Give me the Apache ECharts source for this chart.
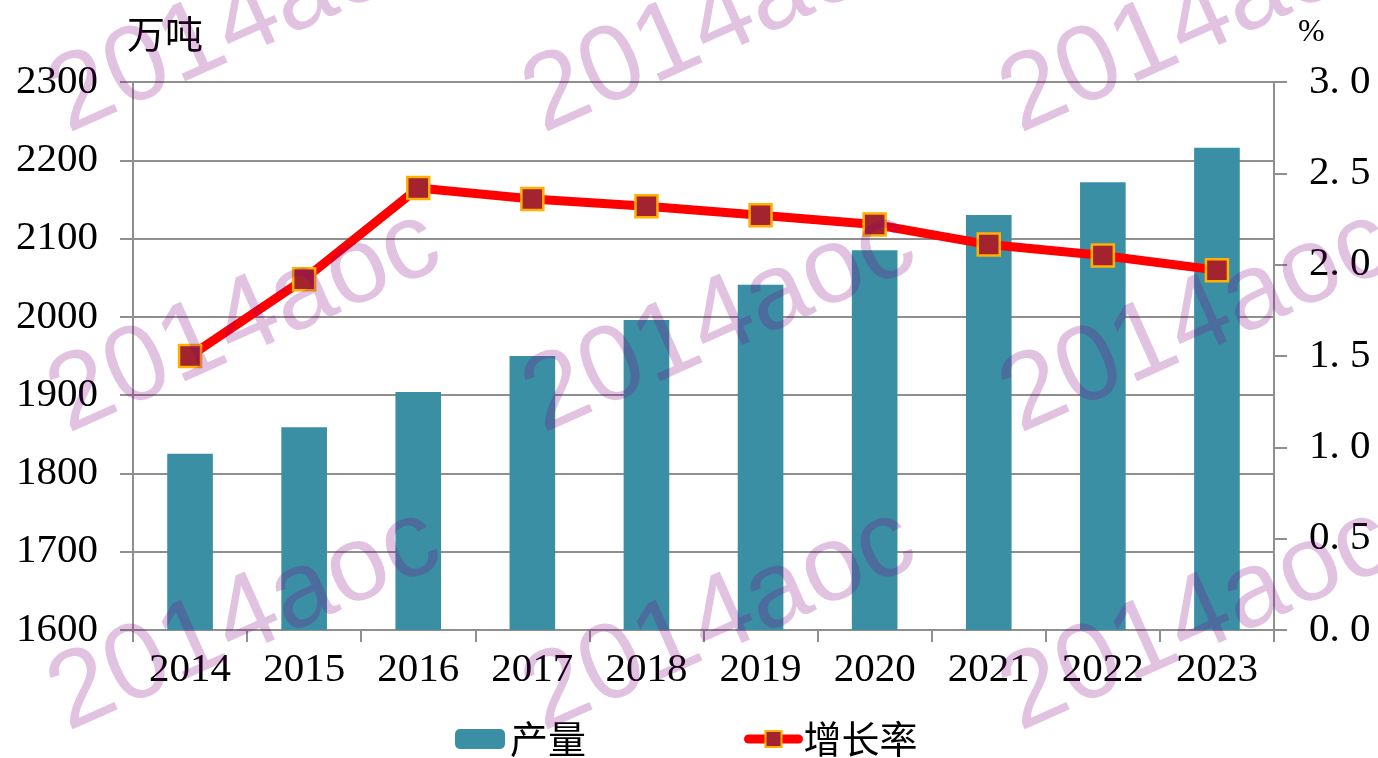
<!DOCTYPE html>
<html>
<head>
<meta charset="utf-8">
<script src="https://cdn.jsdelivr.net/npm/echarts@6/dist/echarts.min.js"></script>
<style>
  html, body { margin: 0; padding: 0; background: #fff; }
  #chart { width: 1378px; height: 758px; }
</style>
</head>
<body>
<div id="chart"></div>
<script>
// 数据
var years = ['2014', '2015', '2016', '2017', '2018', '2019', '2020', '2021', '2022', '2023'];
var output = [1825, 1859, 1904, 1950, 1996, 2041, 2085, 2130, 2172, 2216];   // 产量 万吨
var growth = [1.50, 1.92, 2.42, 2.36, 2.32, 2.27, 2.22, 2.11, 2.05, 1.97];   // 增长率 %
var leftTicks = { min: 1600, max: 2300, step: 100 };
var rightTicks = { min: 0, max: 3, step: 0.5 };
var markText = '2014aoc';

var serif = '"Liberation Serif", "DejaVu Serif", serif';
var cjk = '"Noto Sans CJK SC", sans-serif';
var gray = '#8f8f8f';

// 水印
var marks = [];
[22, 322, 620].forEach(function (y) {
    [245, 720, 1197].forEach(function (x) {
        marks.push({
            type: 'text',
            x: x, y: y,
            rotation: 24 * Math.PI / 180,
            z: 100,
            silent: true,
            style: {
                text: markText,
                font: '108px "Liberation Sans", Arial, sans-serif',
                fill: 'rgba(128,0,128,0.24)',
                align: 'center',
                verticalAlign: 'middle'
            }
        });
    });
});

var myChart = echarts.init(document.getElementById('chart'));
var option = {
    animation: false,
    backgroundColor: '#fff',
    grid: { left: 133, right: 104, top: 82, bottom: 128 },
    legend: {
        left: 450,
        top: 715,
        itemWidth: 50,
        itemHeight: 20,
        itemGap: 158,
        textStyle: { fontFamily: cjk, fontSize: 38, color: '#000' },
        data: [
            { name: '产量' },
            { name: '增长率', lineStyle: { width: 9, color: '#ff0000', cap: 'round' } }
        ]
    },
    xAxis: {
        type: 'category',
        data: years,
        axisLine: { lineStyle: { color: gray, width: 2 } },
        axisTick: { show: true, length: 12, lineStyle: { color: gray, width: 2 } },
        axisLabel: { fontFamily: serif, fontSize: 41, color: '#000', margin: 20 }
    },
    yAxis: [{
        type: 'value',
        min: leftTicks.min,
        max: leftTicks.max,
        interval: leftTicks.step,
        name: '万吨',
        nameLocation: 'end',
        nameGap: 48,
        nameTextStyle: { fontFamily: cjk, fontSize: 38, color: '#000', align: 'left', verticalAlign: 'middle', padding: [0, 0, 0, -6] },
        axisLine: { show: true, lineStyle: { color: gray, width: 2 } },
        axisTick: { show: true, length: 13, lineStyle: { color: gray, width: 2 } },
        axisLabel: {
            fontFamily: serif, fontSize: 41, color: '#000', margin: 35,
            formatter: function (v) { return String(v); }
        },
        splitLine: { lineStyle: { color: gray, width: 2 } }
    }, {
        type: 'value',
        position: 'right',
        min: rightTicks.min,
        max: rightTicks.max,
        interval: rightTicks.step,
        name: '%',
        nameLocation: 'end',
        nameGap: 49,
        nameTextStyle: { fontFamily: serif, fontSize: 32, color: '#000', align: 'left', verticalAlign: 'middle', padding: [0, 0, 0, 24] },
        axisLine: { show: true, lineStyle: { color: gray, width: 2 } },
        axisTick: { show: true, length: 13, lineStyle: { color: gray, width: 2 } },
        axisLabel: {
            fontFamily: serif, fontSize: 41, color: '#000', margin: 35,
            formatter: function (v) { return v.toFixed(1).replace('.', '. '); }
        },
        splitLine: { show: false }
    }],
    series: [{
        name: '产量',
        type: 'bar',
        data: output,
        barCategoryGap: '60%',
        itemStyle: { color: '#3A8FA5' }
    }, {
        name: '增长率',
        type: 'line',
        yAxisIndex: 1,
        data: growth,
        symbol: 'rect',
        symbolSize: 22,
        lineStyle: { color: '#ff0000', width: 9 },
        itemStyle: { color: '#A3232F', borderColor: '#FFB000', borderWidth: 2.5 },
        z: 5
    }],
    graphic: marks
};
myChart.setOption(option);
</script>
</body>
</html>
